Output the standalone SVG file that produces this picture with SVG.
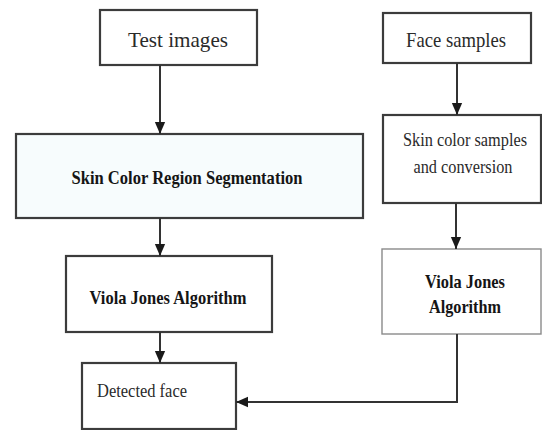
<svg xmlns="http://www.w3.org/2000/svg" width="542" height="430" viewBox="0 0 542 430">
<defs>
<style>
.box{fill:#ffffff;stroke:#3c3c3c;stroke-width:2.2}
.light{fill:#ffffff;stroke:#8a8a8a;stroke-width:1.4}
.t{font-family:"Liberation Serif","Times New Roman",serif;fill:#2a2a2a;text-anchor:middle}
.b{font-weight:bold;fill:#151515}
.edge{fill:none;stroke:#333333;stroke-width:2}
</style>
<marker id="arr" markerUnits="userSpaceOnUse" markerWidth="12" markerHeight="16" refX="14" refY="6" viewBox="0 0 14 12" orient="auto">
<path d="M0,0 L14,6 L0,12 Z" fill="#1a1a1a"/>
</marker>
</defs>
<rect width="542" height="430" fill="#ffffff"/>
<g id="test-images">
<rect class="box" x="100" y="10" width="157" height="55"/>
<text class="t" x="178" y="47" font-size="22" textLength="100" lengthAdjust="spacingAndGlyphs">Test images</text>
</g>
<g id="face-samples">
<rect class="box" x="383" y="13" width="148" height="50"/>
<text class="t" x="456" y="47" font-size="21" textLength="100" lengthAdjust="spacingAndGlyphs">Face samples</text>
</g>
<g id="skin-segmentation">
<rect class="box" x="16" y="134" width="347" height="84" style="fill:#f7fcfd"/>
<text class="t b" x="187" y="184" font-size="19" textLength="231" lengthAdjust="spacingAndGlyphs">Skin Color Region Segmentation</text>
</g>
<g id="skin-samples">
<rect class="box" x="383" y="115" width="158" height="88"/>
<text class="t" x="465" y="146" font-size="18" textLength="124" lengthAdjust="spacingAndGlyphs">Skin color samples</text>
<text class="t" x="463" y="173" font-size="18" textLength="99" lengthAdjust="spacingAndGlyphs">and conversion</text>
</g>
<g id="viola-jones-left">
<rect class="box" x="66" y="256" width="206" height="76"/>
<text class="t b" x="168" y="304" font-size="19" textLength="157" lengthAdjust="spacingAndGlyphs">Viola Jones Algorithm</text>
</g>
<g id="viola-jones-right">
<rect class="light" x="382" y="249" width="159" height="85"/>
<text class="t b" x="465" y="288" font-size="19" textLength="80" lengthAdjust="spacingAndGlyphs">Viola Jones</text>
<text class="t b" x="465" y="313" font-size="19" textLength="72" lengthAdjust="spacingAndGlyphs">Algorithm</text>
</g>
<g id="detected-face">
<rect class="box" x="82" y="363" width="154" height="66"/>
<text class="t" x="142" y="397" font-size="19" textLength="90" lengthAdjust="spacingAndGlyphs">Detected face</text>
</g>
<g id="connectors">
<path class="edge" d="M160,65 V134" marker-end="url(#arr)"/>
<path class="edge" d="M160,218 V256" marker-end="url(#arr)"/>
<path class="edge" d="M160,332 V363" marker-end="url(#arr)"/>
<path class="edge" d="M457,63 V115" marker-end="url(#arr)"/>
<path class="edge" d="M456,203 V249" marker-end="url(#arr)"/>
<path class="edge" d="M457,334 V402 H236" marker-end="url(#arr)"/>
</g>
</svg>
